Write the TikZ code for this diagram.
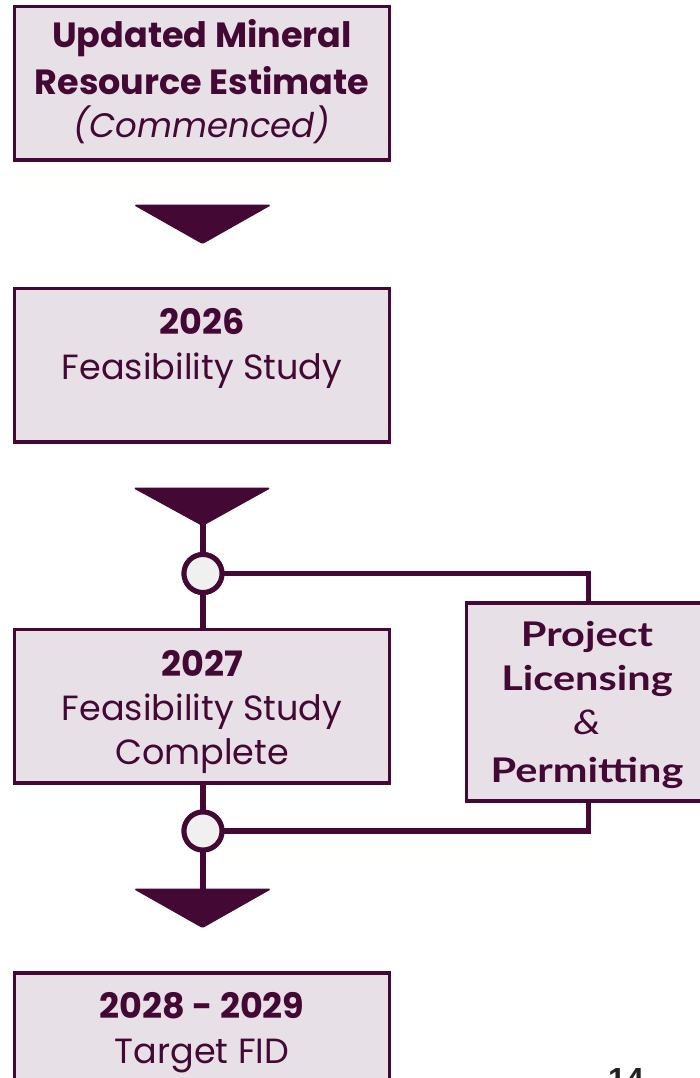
\documentclass[tikz,border=0pt]{standalone}
\usepackage{fontspec}
\newfontfamily\rwf{Poppins}
\newfontfamily\plf[FakeStretch=1.22]{Lato}
\newfontfamily\pgf{Liberation Sans}
\definecolor{plum}{HTML}{440834}
\definecolor{boxfill}{HTML}{E8E0E7}
\definecolor{dotfill}{HTML}{F0F0F0}
\definecolor{pgnum}{HTML}{222222}
\begin{document}
\begin{tikzpicture}[x=1pt,y=-1pt,
  stagebox/.style={draw=plum,fill=boxfill,line width=3.5pt,rectangle,inner sep=0pt,outer sep=0pt,minimum width=375pt,minimum height=153.5pt},
  plpbox/.style={draw=plum,fill=boxfill,line width=3.5pt,rectangle,inner sep=0pt,outer sep=0pt,minimum width=243.5pt,minimum height=198pt},
  junction/.style={circle,draw=plum,fill=dotfill,line width=5pt,minimum size=38pt,inner sep=0pt,outer sep=0pt},
  wire/.style={draw=plum,line width=5.5pt},
  tri/.style={fill=plum,draw=plum,line width=1pt,rounded corners=1.5pt},
  txb/.style={text=plum,anchor=base,inner sep=0pt,font=\rwf\bfseries\fontsize{35}{40}\selectfont},
  txr/.style={text=plum,anchor=base,inner sep=0pt,font=\rwf\fontsize{35}{40}\selectfont},
  txi/.style={text=plum,anchor=base,inner sep=0pt,font=\rwf\itshape\fontsize{34}{40}\selectfont},
  txp/.style={text=plum,anchor=base,inner sep=0pt,font=\plf\bfseries\fontsize{34}{40}\selectfont},
  txpi/.style={text=plum,anchor=base,inner sep=0pt,font=\plf\itshape\fontsize{34}{40}\selectfont}
]
\useasboundingbox (0,0) rectangle (700,1078);
\clip (0,0) rectangle (700,1078);
\fill[white] (0,0) rectangle (700,1078);

\node[plpbox] (plp) at (588.25,702) {};
\coordinate (tri2apex) at (203,524);
\coordinate (tri3top) at (203,890);
\node[junction] (c1) at (203,573.5) {};
\node[junction] (c2) at (203,831) {};

\node[stagebox] (b1) at (202,83.25) {};
\node[stagebox] (b2) at (202,365.25) {};
\node[stagebox] (b3) at (202,706.25) {};
\node[stagebox] (b4) at (202,1049.75) {};

\draw[wire] (tri2apex) -- (c1.north);
\draw[wire] (c1.south) -- (b3.north -| c1);
\draw[wire] (b3.south -| c2) -- (c2.north);
\draw[wire] (c2.south) -- (tri3top);
\draw[wire] (c1.east) -| (plp.north);
\draw[wire] (c2.east) -| (plp.south);
\node[junction] at (c1) {};
\node[junction] at (c2) {};
\node[plpbox] at (plp) {};

\fill[tri] (134.5,205) -- (270.5,205) -- (202.5,243.5) -- cycle;
\fill[tri] (134,488) -- (270,488) -- (202.5,525.5) -- cycle;
\fill[tri] (134.5,889) -- (270.5,889) -- (202.5,927.5) -- cycle;

\node[txb] (t1a) at (202,48) {Updated Mineral};
\node[txb] (t1b) at (202,95) {Resource Estimate};
\node[txi] (t1c) at (202,138) {(Commenced)};

\node[txb] (t2a) at (202,334) {2026};
\node[txr] (t2b) at (202,379) {Feasibility Study};

\node[txb] (t3a) at (202,676) {2027};
\node[txr] (t3b) at (202,720) {Feasibility Study};
\node[txr] (t3c) at (202,764) {Complete};

\node[txb] (t4a) at (202,1018) {2028 - 2029};
\node[txr] (t4b) at (202,1063) {Target FID};

\node[txp] (p1) at (587,646) {Project};
\node[txp] (p2) at (587,690) {Licensing};
\node[txpi] (p3) at (587,734) {\&};
\node[txp] (p4) at (587,782) {Permitting};

\node[text=pgnum,anchor=base west,inner sep=0pt,font=\pgf\bfseries\fontsize{32}{36}\selectfont] (pg) at (608,1090) {14};
\end{tikzpicture}
\end{document}
